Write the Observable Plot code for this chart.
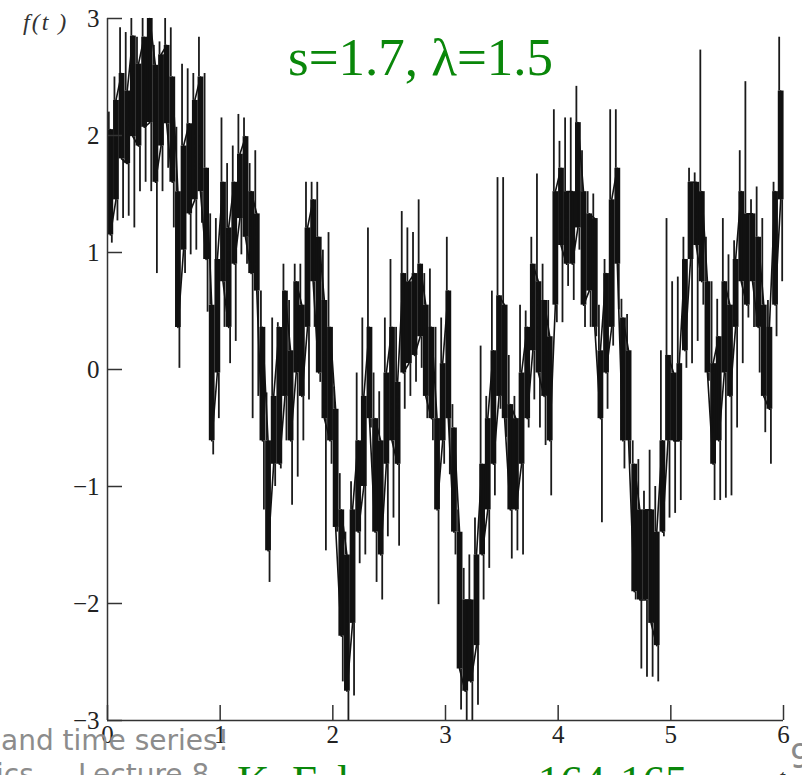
<!DOCTYPE html>
<html><head><meta charset="utf-8">
<script src="https://cdn.jsdelivr.net/npm/d3@7"></script>
<script src="https://cdn.jsdelivr.net/npm/@observablehq/plot@0.6"></script>
<style>
body{margin:0;background:#fff;}
#wrap{position:relative;width:802px;height:775px;overflow:hidden;background:#fff;}
#chart{position:absolute;left:0;top:0;}
#overlay{position:absolute;left:0;top:0;}
</style></head><body>
<div id="wrap"><div id="chart"></div>
<svg id="overlay" width="802" height="775" xmlns="http://www.w3.org/2000/svg">
  <text x="288" y="75" font-family="'Liberation Serif', serif" font-size="53" fill="#0a870a">s=1.7, λ=1.5</text>
  <text x="23" y="30" font-family="'Liberation Serif', serif" font-style="italic" font-size="24" letter-spacing="2" fill="#333">f(t )</text>
  <text x="779" y="784" font-family="'Liberation Serif', serif" font-style="italic" font-size="22" fill="#333">t</text>
  <text x="790" y="768" font-family="'DejaVu Sans', sans-serif" font-size="33" fill="#8a8a8a">9</text>
  <text x="1" y="750" font-family="'DejaVu Sans', sans-serif" font-size="28" fill="#8c8c8c">and time series!</text>
  <text x="-4" y="784" font-family="'DejaVu Sans', sans-serif" font-size="28" fill="#8c8c8c">ics</text>
  <text x="78" y="784" font-family="'DejaVu Sans', sans-serif" font-size="28" fill="#8c8c8c">Lecture 8</text>
  <text x="237" y="796" font-family="'Liberation Serif', serif" font-size="45" fill="#0a870a">K. Falconer, pp. 164-165</text>
</svg>
</div>
<script>
// sample times (bin centres, width 0.05)
const t = [0.025,0.075,0.125,0.175,0.225,0.275,0.325,0.375,0.425,0.475,
0.525,0.575,0.625,0.675,0.725,0.775,0.825,0.875,0.925,0.975,
1.025,1.075,1.125,1.175,1.225,1.275,1.325,1.375,1.425,1.475,
1.525,1.575,1.625,1.675,1.725,1.775,1.825,1.875,1.925,1.975,
2.025,2.075,2.125,2.175,2.225,2.275,2.325,2.375,2.425,2.475,
2.525,2.575,2.625,2.675,2.725,2.775,2.825,2.875,2.925,2.975,
3.025,3.075,3.125,3.175,3.225,3.275,3.325,3.375,3.425,3.475,
3.525,3.575,3.625,3.675,3.725,3.775,3.825,3.875,3.925,3.975,
4.025,4.075,4.125,4.175,4.225,4.275,4.325,4.375,4.425,4.475,
4.525,4.575,4.625,4.675,4.725,4.775,4.825,4.875,4.925,4.975,
5.025,5.075,5.125,5.175,5.225,5.275,5.325,5.375,5.425,5.475,
5.525,5.575,5.625,5.675,5.725,5.775,5.825,5.875,5.925,5.975];
// spike maxima of f(t) in each bin
const hi = [2.2,2.5,2.92,2.88,3.0,2.84,3.0,3.0,2.77,2.8,
3.0,2.92,2.07,2.61,2.57,2.53,2.84,2.53,1.33,1.29,
2.15,1.76,1.91,2.18,2.15,1.76,1.87,0.67,-0.2,0.44,
0.4,0.9,0.59,0.9,0.9,1.6,1.6,1.6,1.02,1.17,
-0.15,-0.89,-1.39,-0.96,-0.03,0.44,1.21,-0.03,-0.19,0.44,
0.94,0.36,1.35,1.21,1.17,1.45,0.82,0.86,0.36,0.44,
1.13,-0.3,-1.2,-1.7,-1.585,-1.27,0.2,-0.23,0.67,1.64,
1.64,0.12,-0.23,0.55,0.5,1.13,1.67,0.9,0.59,2.22,
1.95,2.15,2.15,2.42,1.87,1.52,1.5,0.55,0.94,2.22,
2.22,0.6,0.47,-0.61,-0.77,-1.04,-0.69,-1.0,0.16,1.29,
0.75,0.79,1.13,1.72,1.68,2.73,1.13,0.75,0.6,1.29,
0.98,1.1,1.87,2.46,1.45,1.56,1.29,0.59,1.6,2.84];
// dense core upper edge
const coreHi = [2.05,2.3,2.53,2.38,2.85,2.61,2.84,3.0,2.6,2.69,
2.77,2.5,1.52,1.91,2.1,2.3,2.5,1.72,0.55,0.94,
1.6,1.21,1.6,1.84,1.99,1.52,1.33,0.36,-0.61,-0.23,
0.36,0.67,0.16,0.75,0.55,1.21,1.45,1.13,0.59,0.36,
-0.34,-1.2,-1.585,-1.2,-0.61,-0.23,0.36,-0.42,-0.61,-0.03,
0.36,-0.11,0.82,0.75,0.82,0.9,0.55,0.36,-0.42,0.05,
0.67,-0.5,-1.39,-1.97,-1.97,-1.585,-0.81,-0.42,0.16,0.63,
0.55,-0.3,-0.42,-0.03,0.36,0.9,0.75,0.59,0.28,1.52,
1.72,1.52,1.52,2.11,1.52,1.33,1.29,0.16,0.82,1.45,
1.72,0.44,0.16,-0.81,-1.2,-1.2,-1.2,-1.39,-0.61,0.12,
-0.03,0.05,0.94,1.6,1.6,1.52,0.75,0.05,0.28,0.75,
0.55,0.94,1.52,1.33,1.33,1.13,0.55,0.36,1.52,2.38];
// dense core lower edge
const coreLo = [1.15,1.45,1.8,1.76,1.99,1.91,2.07,2.11,1.6,1.91,
2.1,1.6,0.36,1.02,1.33,1.45,1.52,0.94,-0.61,-0.03,
0.75,0.36,0.9,1.29,1.13,0.82,0.67,-0.61,-1.55,-0.81,
-0.81,-0.23,-0.61,-0.03,-0.23,0.36,0.75,-0.03,-0.42,-0.61,
-1.35,-2.28,-2.75,-2.17,-1.39,-1.0,-0.42,-1.39,-1.585,-0.81,
-0.61,-0.81,-0.03,0.05,0.12,0.28,-0.23,-0.42,-1.2,-0.61,
-0.42,-1.39,-2.56,-2.75,-2.67,-2.36,-1.585,-1.2,-0.81,-0.23,
-0.42,-1.2,-1.2,-0.81,-0.42,0.16,-0.03,-0.23,-0.61,0.55,
1.06,0.9,0.9,1.21,0.55,0.67,0.36,-0.42,-0.03,0.36,
0.9,-0.61,-0.61,-1.9,-1.97,-1.97,-2.17,-2.36,-1.39,-0.61,
-0.61,-0.61,0.16,0.94,1.06,0.75,-0.03,-0.81,-0.61,-0.03,
-0.23,0.36,0.75,0.55,0.75,0.36,-0.23,-0.34,0.55,1.45];
// spike minima of f(t) in each bin
const lo = [1.08,1.27,1.29,1.31,1.21,1.52,1.6,1.52,0.82,1.52,
1.72,1.21,0.01,0.82,0.98,1.02,1.25,0.49,-0.73,-0.42,
0.36,0.05,0.24,0.98,0.9,-0.42,-0.23,-1.2,-1.82,-1.0,
-0.85,-0.61,-1.16,-0.92,-0.61,-0.26,0.36,-0.11,-1.55,-0.81,
-1.39,-2.67,-3.0,-2.79,-1.66,-1.585,-0.5,-1.82,-1.97,-1.43,
-1.27,-1.51,-0.34,-0.23,-0.11,0.01,-0.42,-0.61,-2.01,-0.81,
-0.9,-1.585,-2.91,-3.0,-3.0,-2.87,-1.97,-1.7,-1.08,-0.34,
-0.58,-1.62,-1.55,-1.585,-0.5,-0.26,-0.5,-0.65,-1.08,0.4,
0.4,0.71,0.59,1.02,0.36,0.36,0.28,-1.31,-0.34,0.2,
0.51,-0.85,-0.81,-1.97,-2.56,-2.63,-2.63,-2.67,-1.43,-1.27,
-1.23,-1.12,0.01,0.05,0.24,0.55,-0.1,-1.12,-1.12,-1.1,
-1.08,-0.5,0.05,0.44,0.36,-0.03,-0.54,-0.81,0.28,0.75];
const xTicks = [0,1,2,3,4,5,6];
const yTicks = [-3,-2,-1,0,1,2,3];

const bins = t.map((v, i) => ({t: v, hi: hi[i], lo: lo[i], cHi: coreHi[i], cLo: coreLo[i]}));
const zig = [];
bins.forEach((b, i) => {
  if (i % 2 === 0) { zig.push({t: b.t, y: b.cHi}); zig.push({t: b.t, y: b.cLo}); }
  else { zig.push({t: b.t, y: b.cLo}); zig.push({t: b.t, y: b.cHi}); }
});

const W = 802, H = 775, mL = 107, mR = 19, mT = 18, mB = 55;
const fmt = d => d < 0 ? "\u2212" + Math.abs(d) : String(d);
const serif = "'Liberation Serif', 'Times New Roman', serif";

const chart = Plot.plot({
  width: W, height: H,
  marginLeft: mL, marginRight: mR, marginTop: mT, marginBottom: mB,
  x: {domain: [0, 6], label: null},
  y: {domain: [-3, 3], label: null},
  style: {fontFamily: serif, fontSize: "25px", color: "#222", background: "transparent"},
  marks: [
    Plot.ruleX(bins, {x: "t", y1: "cHi", y2: "hi", stroke: "#1a1a1a", strokeWidth: 1.8, dx: -1.5}),
    Plot.ruleX(bins, {x: "t", y1: "lo", y2: "cLo", stroke: "#1a1a1a", strokeWidth: 1.8, dx: 1.5}),
    Plot.ruleX(bins, {x: "t", y1: "cLo", y2: "cHi", stroke: "#111", strokeWidth: 5.8}),
    Plot.line(zig, {x: "t", y: "y", stroke: "#111", strokeWidth: 1.6}),
    Plot.ruleX([0], {stroke: "#333", strokeWidth: 1.5}),
    Plot.ruleY([-3], {stroke: "#333", strokeWidth: 1.5}),
    Plot.tickY(yTicks, {y: d => d, insetRight: (W - mL - mR) - 15, stroke: "#333", strokeWidth: 1.5}),
    Plot.tickX(xTicks, {x: d => d, insetTop: (H - mT - mB) - 15, stroke: "#333", strokeWidth: 1.5}),
    Plot.axisY(yTicks, {tickSize: 0, tickPadding: 8, tickFormat: fmt, fontSize: 25, fontFamily: serif, label: null}),
    Plot.axisX(xTicks, {tickSize: 0, tickPadding: 5, tickFormat: fmt, fontSize: 25, fontFamily: serif, label: null})
  ]
});
document.getElementById("chart").appendChild(chart);
</script>
</body></html>
